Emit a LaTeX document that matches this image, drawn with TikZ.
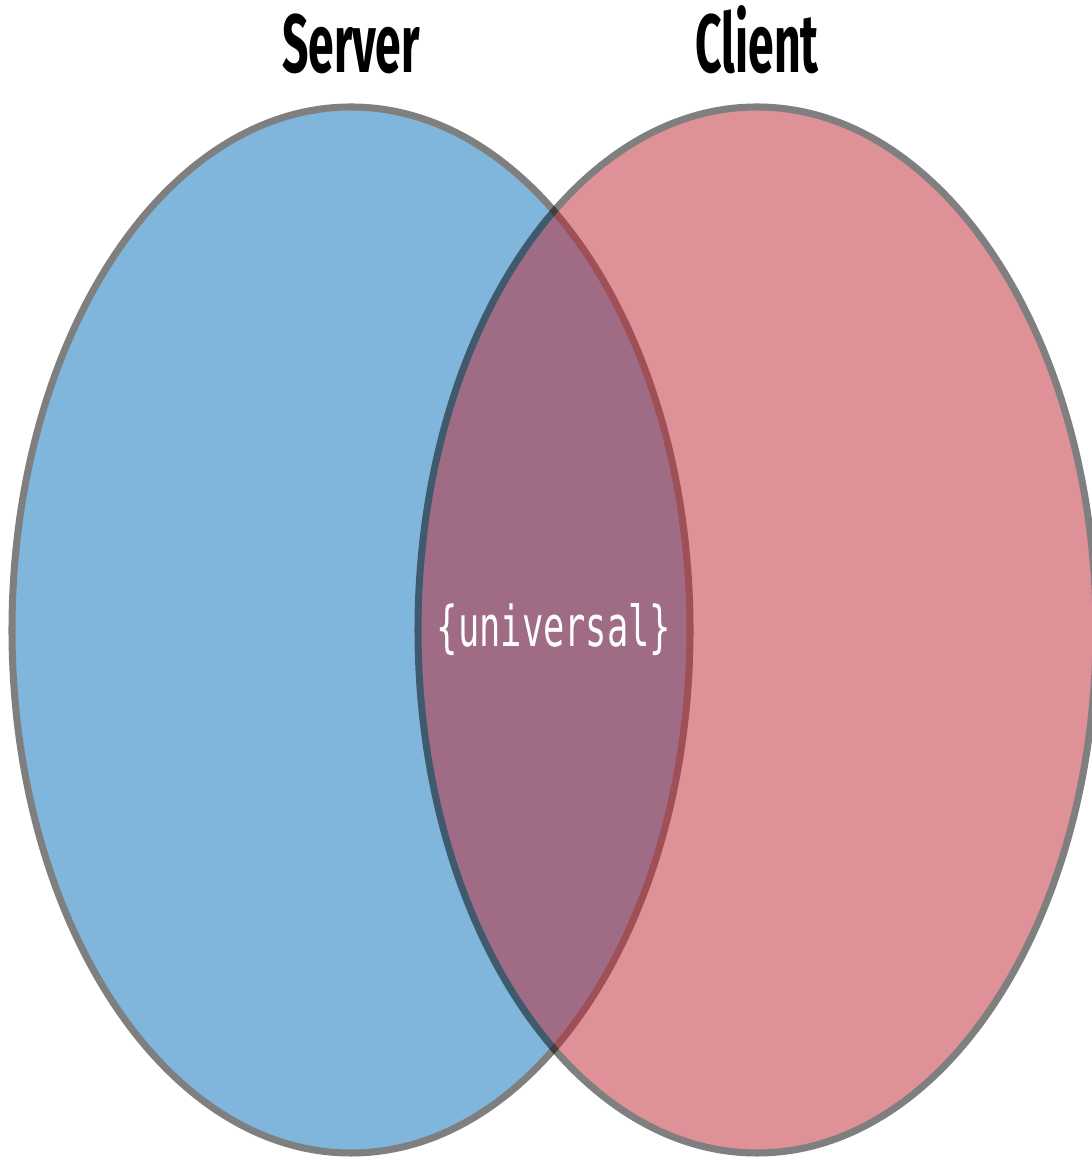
\documentclass[tikz,border=0pt]{standalone}
\usepackage{fontspec}
\usetikzlibrary{positioning,shapes.geometric,calc}
\newfontfamily\titlefont[FakeStretch=0.56]{Fira Sans}
\newfontfamily\codefont[FakeStretch=0.63]{DejaVu Sans Mono}
\definecolor{serverBlue}{HTML}{016DB9}
\definecolor{clientRed}{HTML}{BE232F}

\begin{document}
\begin{tikzpicture}[
    setbox/.style={ellipse,draw=black,line width=2pt,inner sep=0pt,minimum height=10.46cm},
    settitle/.style={anchor=base,font=\titlefont\bfseries\fontsize{23.5pt}{28pt}\selectfont}
  ]
  \useasboundingbox (0,0) rectangle (10.91,11.58);
  % the two sets, each see-through as a whole
  \begin{scope}[transparency group,opacity=0.5]
    \node[setbox,fill=serverBlue,minimum width=6.78cm] (server) at (3.51,5.28) {};
  \end{scope}
  \begin{scope}[transparency group,opacity=0.5]
    \node[setbox,fill=clientRed,minimum width=6.78cm] (client) at (7.57,5.28) {};
  \end{scope}
  % overlap label
  \node[text=white,font=\codefont\fontsize{16pt}{19pt}\selectfont] (universal) at ($(server.east)!0.5!(client.west)$) {\{universal\}};
  % titles
  \node[settitle] (servertitle) at ([yshift=0.31cm]server.north) {Server};
  \node[settitle] (clienttitle) at ([yshift=0.31cm]client.north) {Client};
\end{tikzpicture}
\end{document}
